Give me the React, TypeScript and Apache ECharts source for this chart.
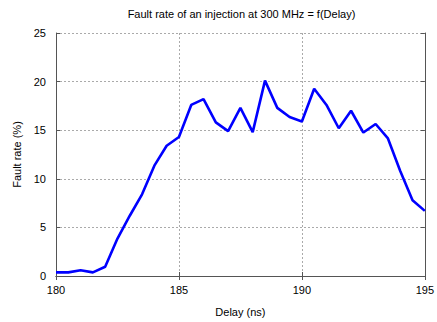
import React, { useEffect, useRef } from "react";
import * as echarts from "echarts";

const delays = [
  180, 180.5, 181, 181.5, 182, 182.5, 183, 183.5, 184, 184.5, 185, 185.5, 186, 186.5, 187,
  187.5, 188, 188.5, 189, 189.5, 190, 190.5, 191, 191.5, 192, 192.5, 193, 193.5, 194, 194.5, 195,
];
const faultRates = [
  0.37, 0.37, 0.6, 0.37, 0.95, 3.85, 6.2, 8.4, 11.35, 13.4, 14.3, 17.6, 18.2, 15.8, 14.9,
  17.3, 14.8, 20.1, 17.3, 16.35, 15.9, 19.26, 17.6, 15.2, 17.0, 14.76, 15.64, 14.15, 10.8, 7.8, 6.7,
];

const titleText = "Fault rate of an injection at 300 MHz = f(Delay)";
const xName = "Delay (ns)";
const yName = "Fault rate (%)";

const FONT = "Liberation Sans, Arial, sans-serif";

export default function App() {
  const ref = useRef<HTMLDivElement>(null);
  useEffect(() => {
    if (!ref.current) return;
    const chart = echarts.init(ref.current, undefined, { renderer: "svg" });
    const axisLine = { show: true, lineStyle: { color: "#555", width: 1 } };
    const split = { show: true, lineStyle: { color: "#aaa", type: [2, 2] as any, width: 1 } };
    const tick = { show: true, inside: true, length: 4, lineStyle: { color: "#555" } };
    chart.setOption({
      animation: false,
      backgroundColor: "#fff",
      graphic: [
        {
          type: "text",
          x: 241.5,
          y: 13.5,
          style: {
            text: titleText,
            fontFamily: FONT,
            fontSize: 11,
            fill: "#000",
            align: "center",
            verticalAlign: "middle",
          },
        },
      ],
      grid: { left: 56, right: 10, top: 33, bottom: 42, containLabel: false },
      xAxis: [
        {
          type: "value",
          min: 180,
          max: 195,
          interval: 5,
          name: xName,
          nameLocation: "middle",
          nameGap: 30,
          nameTextStyle: { fontFamily: FONT, fontSize: 11, color: "#000" },
          axisLine,
          axisTick: tick,
          axisLabel: { fontFamily: FONT, fontSize: 11, color: "#000", margin: 8 },
          splitLine: split,
        },
        {
          type: "value",
          position: "top",
          min: 180,
          max: 195,
          interval: 5,
          axisLine,
          axisTick: tick,
          axisLabel: { show: false },
          splitLine: { show: false },
        },
      ],
      yAxis: [
        {
          type: "value",
          min: 0,
          max: 25,
          interval: 5,
          name: yName,
          nameLocation: "middle",
          nameGap: 28,
          nameRotate: 90,
          nameTextStyle: { fontFamily: FONT, fontSize: 11, color: "#000" },
          axisLine,
          axisTick: tick,
          axisLabel: { fontFamily: FONT, fontSize: 11, color: "#000", margin: 10 },
          splitLine: split,
        },
        {
          type: "value",
          position: "right",
          min: 0,
          max: 25,
          interval: 5,
          axisLine,
          axisTick: tick,
          axisLabel: { show: false },
          splitLine: { show: false },
        },
      ],
      series: [
        {
          type: "line",
          data: delays.map((d, i) => [d, faultRates[i]]),
          showSymbol: false,
          lineStyle: { color: "#0000ff", width: 2.6 },
          itemStyle: { color: "#0000ff" },
        },
      ],
    });
    return () => chart.dispose();
  }, []);
  return <div ref={ref} style={{ width: 437, height: 322, position: "absolute", left: 0, top: 0 }} />;
}
